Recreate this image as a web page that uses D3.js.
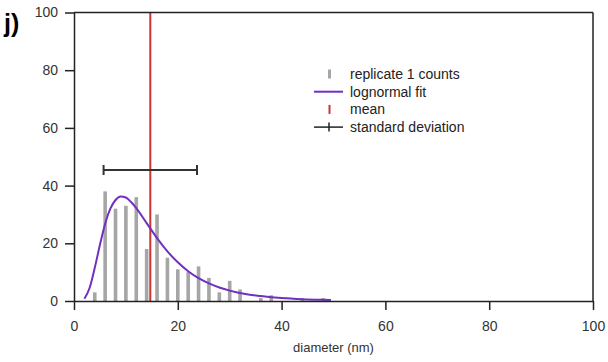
<!DOCTYPE html>
<html>
<head>
<meta charset="utf-8">
<script src="https://cdn.jsdelivr.net/npm/d3@7"></script>
<style>
  body { margin: 0; background: #fff; }
  svg { display: block; font-family: Arial, "Liberation Sans", sans-serif; }
</style>
</head>
<body>
<svg id="chart"></svg>
<script>
// histogram bins (nm) and counts
var binCenters = [4, 6, 8, 10, 12, 14, 16, 18, 20, 22, 24, 26, 28, 30, 32, 34, 36, 38, 40, 42, 44, 46, 48];
var counts     = [3, 38, 32, 33, 36, 18, 30, 15, 11, 10, 12, 8, 3, 7, 4, 0, 1, 2, 0, 0, 1, 0, 1];

// lognormal fit
var fitX = [2, 3, 4, 5, 6, 7, 8, 9, 10, 11, 12, 14, 16, 18, 20, 22, 24, 26, 28, 30, 33, 36, 40, 44, 48, 49.5];
var fitY = [0.8, 4.5, 11.5, 19.5, 26.8, 32.0, 35.0, 36.2, 35.9, 34.3, 32.2, 27.0, 21.8, 17.2, 13.4, 10.3, 7.9, 6.1, 4.7, 3.6, 2.4, 1.7, 1.0, 0.6, 0.4, 0.35];

var meanValue = 14.7;
var sdValue = 9.0;
var sdLevel = 45.4;

var xTicks = [0, 20, 40, 60, 80, 100];
var yTicks = [0, 20, 40, 60, 80, 100];

var legendLabels = ["replicate 1 counts", "lognormal fit", "mean", "standard deviation"];

var svgWidth = 608, svgHeight = 362;
var margin = { top: 12.5, right: 15, bottom: 61, left: 74 };
var width = svgWidth - margin.left - margin.right;
var height = svgHeight - margin.top - margin.bottom;

var barColor = "#a6a6a6", fitColor = "#7030c0", meanColor = "#cc3333", axisColor = "#222";

var svg = d3.select("#chart")
    .attr("width", svgWidth)
    .attr("height", svgHeight);

var g = svg.append("g")
    .attr("transform", "translate(" + margin.left + "," + margin.top + ")");

var x = d3.scaleLinear().domain([0, 100]).range([0, width]);
var y = d3.scaleLinear().domain([0, 100]).range([height, 0]);

// bars
var barW = 3.6;
g.selectAll("rect.bar")
    .data(binCenters.map(function(c, i) { return { c: c, n: counts[i] }; }).filter(function(d) { return d.n > 0; }))
  .enter().append("rect")
    .attr("class", "bar")
    .attr("x", function(d) { return x(d.c) - barW / 2; })
    .attr("width", barW)
    .attr("y", function(d) { return y(d.n); })
    .attr("height", function(d) { return y(0) - y(d.n); })
    .attr("fill", barColor);

// mean line
g.append("line")
    .attr("x1", x(meanValue)).attr("x2", x(meanValue))
    .attr("y1", y(0)).attr("y2", y(100))
    .attr("stroke", meanColor)
    .attr("stroke-width", 2);

// fit
var line = d3.line()
    .x(function(d) { return x(d[0]); })
    .y(function(d) { return y(d[1]); })
    .curve(d3.curveMonotoneX);

g.append("path")
    .datum(fitX.map(function(v, i) { return [v, fitY[i]]; }))
    .attr("fill", "none")
    .attr("stroke", fitColor)
    .attr("stroke-width", 2)
    .attr("d", line);

// standard deviation bar
var sdG = g.append("g").attr("stroke", "#333").attr("stroke-width", 2);
sdG.append("line")
    .attr("x1", x(meanValue - sdValue)).attr("x2", x(meanValue + sdValue))
    .attr("y1", y(sdLevel)).attr("y2", y(sdLevel));
[meanValue - sdValue, meanValue + sdValue].forEach(function(v) {
  sdG.append("line")
      .attr("x1", x(v)).attr("x2", x(v))
      .attr("y1", y(sdLevel) - 5).attr("y2", y(sdLevel) + 5);
});

// frame
g.append("line").attr("x1", 0).attr("x2", width).attr("y1", 0).attr("y2", 0)
    .attr("stroke", axisColor).attr("stroke-width", 1.5);
g.append("line").attr("x1", width).attr("x2", width).attr("y1", 0).attr("y2", height)
    .attr("stroke", axisColor).attr("stroke-width", 1.5);

// axes
var xAxis = g.append("g")
    .attr("transform", "translate(0," + height + ")")
    .call(d3.axisBottom(x).tickValues(xTicks).tickSize(9).tickSizeOuter(0).tickPadding(11));
var yAxis = g.append("g")
    .call(d3.axisLeft(y).tickValues(yTicks).tickSize(9).tickSizeOuter(0).tickPadding(7));

[xAxis, yAxis].forEach(function(a) {
  a.select(".domain").attr("stroke", axisColor).attr("stroke-width", 1.5);
  a.selectAll(".tick line").attr("stroke", axisColor).attr("stroke-width", 1.5);
  a.selectAll(".tick text")
      .attr("fill", "#333")
      .style("font-size", "14px")
      .style("font-family", "Arial, 'Liberation Sans', sans-serif");
});

svg.append("text")
    .attr("x", margin.left + width / 2)
    .attr("y", 352)
    .attr("text-anchor", "middle")
    .attr("fill", "#333")
    .style("font-size", "13px")
    .text("diameter (nm)");

svg.append("text")
    .attr("x", 4)
    .attr("y", 32)
    .attr("fill", "#000")
    .style("font-size", "25px")
    .style("font-weight", "bold")
    .text("j)");

// legend
var legend = svg.append("g").attr("transform", "translate(314,74)");
var rowH = 17.7;
legendLabels.forEach(function(label, i) {
  var row = legend.append("g").attr("transform", "translate(0," + (i * rowH) + ")");
  if (i === 0) {
    row.append("rect").attr("x", 14).attr("y", -4.5).attr("width", 3).attr("height", 9).attr("fill", barColor);
  } else if (i === 1) {
    row.append("line").attr("x1", 0).attr("x2", 29).attr("y1", 0).attr("y2", 0)
        .attr("stroke", fitColor).attr("stroke-width", 2);
  } else if (i === 2) {
    row.append("line").attr("x1", 15.5).attr("x2", 15.5).attr("y1", -4.5).attr("y2", 4.5)
        .attr("stroke", meanColor).attr("stroke-width", 2);
  } else {
    row.append("line").attr("x1", 0).attr("x2", 29).attr("y1", 0).attr("y2", 0)
        .attr("stroke", "#222").attr("stroke-width", 1.5);
    row.append("line").attr("x1", 15).attr("x2", 15).attr("y1", -4.5).attr("y2", 4.5)
        .attr("stroke", "#222").attr("stroke-width", 1.5);
  }
  row.append("text")
      .attr("x", 36)
      .attr("y", 0)
      .attr("dy", "0.35em")
      .attr("fill", "#222")
      .style("font-size", "14px")
      .text(label);
});
</script>
</body>
</html>
